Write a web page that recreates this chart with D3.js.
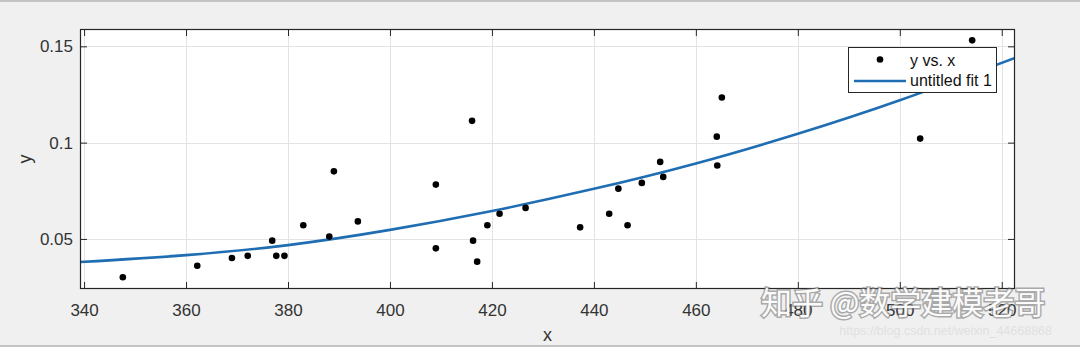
<!DOCTYPE html>
<html>
<head>
<meta charset="utf-8">
<script src="https://cdn.jsdelivr.net/npm/d3@7"></script>
<style>
  html, body { margin: 0; padding: 0; background: #f0f0f0; }
  svg { display: block; font-family: "Liberation Sans", Arial, sans-serif; }
</style>
</head>
<body>
<svg id="chart" width="1080" height="347"></svg>
<script>
// scatter data
var xData = [347.6, 362.2, 369.0, 372.1, 376.9, 377.7, 379.3, 383.0, 388.1, 389.0, 393.7,
             409.0, 409.0, 416.1, 416.3, 417.1, 419.1, 421.5, 426.6, 437.3, 443.0, 444.8,
             446.6, 449.4, 453.0, 453.6, 464.1, 464.2, 465.1, 504.0, 514.2];
var yData = [0.0301, 0.0361, 0.0401, 0.0412, 0.0491, 0.0412, 0.0412, 0.0571, 0.0512, 0.0851, 0.0591,
             0.0782, 0.0451, 0.1113, 0.0491, 0.0382, 0.0571, 0.0631, 0.0661, 0.0560, 0.0631, 0.0761,
             0.0571, 0.0791, 0.0900, 0.0822, 0.1031, 0.0881, 0.1234, 0.1021, 0.1531];

// fitted curve
var fitX = [339.2, 360, 380, 400, 420, 440, 460, 480, 500, 522.6];
var fitY = [0.0380, 0.0416, 0.0468, 0.0547, 0.0645, 0.0760, 0.0892, 0.1046, 0.1220, 0.1440];

var xTicks = [340, 360, 380, 400, 420, 440, 460, 480, 500, 520];
var yTicks = [0.05, 0.1, 0.15];
var legendLabels = ["y vs. x", "untitled fit 1"];

(function () {
  var W = 1080, H = 347;
  var m = { left: 80, right: 1015, top: 29, bottom: 289 };
  var axisColor = "#262626", labelColor = "#333", fitColor = "#1f6db2", gridColor = "#e3e3e3";

  var svg = d3.select("#chart");

  // figure frame lines
  svg.append("rect").attr("x", 0).attr("y", 0).attr("width", W).attr("height", 2).attr("fill", "#c4c4c4");
  svg.append("rect").attr("x", 0).attr("y", H - 2).attr("width", W).attr("height", 2).attr("fill", "#c4c4c4");

  var x = d3.scaleLinear().domain([339.2, 522.6]).range([m.left, m.right]);
  var y = d3.scaleLinear().domain([0.024, 0.159]).range([m.bottom, m.top]);

  svg.append("rect")
    .attr("x", m.left).attr("y", m.top)
    .attr("width", m.right - m.left).attr("height", m.bottom - m.top)
    .attr("fill", "#fff");

  // grid
  svg.append("g").selectAll("line").data(xTicks).enter().append("line")
    .attr("x1", function (d) { return Math.round(x(d)) + 0.5; })
    .attr("x2", function (d) { return Math.round(x(d)) + 0.5; })
    .attr("y1", m.top).attr("y2", m.bottom)
    .attr("stroke", gridColor);
  svg.append("g").selectAll("line").data(yTicks).enter().append("line")
    .attr("y1", function (d) { return Math.round(y(d)) + 0.5; })
    .attr("y2", function (d) { return Math.round(y(d)) + 0.5; })
    .attr("x1", m.left).attr("x2", m.right)
    .attr("stroke", gridColor);

  svg.append("clipPath").attr("id", "plotclip").append("rect")
    .attr("x", m.left).attr("y", m.top).attr("width", m.right - m.left).attr("height", m.bottom - m.top);

  // fit line
  var line = d3.line()
    .x(function (d, i) { return x(fitX[i]); })
    .y(function (d) { return y(d); })
    .curve(d3.curveNatural);
  svg.append("path")
    .datum(fitY)
    .attr("clip-path", "url(#plotclip)")
    .attr("d", line)
    .attr("fill", "none")
    .attr("stroke", fitColor)
    .attr("stroke-width", 2.6);

  // points
  svg.append("g").selectAll("circle").data(yData).enter().append("circle")
    .attr("cx", function (d, i) { return x(xData[i]); })
    .attr("cy", function (d) { return y(d); })
    .attr("r", 3.3)
    .attr("fill", "#000");

  // axes (ticks inward, mirrored on top and right)
  var tickLen = 7;
  var gx = svg.append("g").attr("transform", "translate(0," + m.bottom + ")")
    .call(d3.axisBottom(x).tickValues(xTicks).tickSizeInner(-tickLen).tickSizeOuter(0)
      .tickPadding(15).tickFormat(d3.format("d")));
  var gxTop = svg.append("g").attr("transform", "translate(0," + m.top + ")")
    .call(d3.axisTop(x).tickValues(xTicks).tickSizeInner(-tickLen).tickSizeOuter(0).tickFormat(""));
  var gy = svg.append("g").attr("transform", "translate(" + m.left + ",0)")
    .call(d3.axisLeft(y).tickValues(yTicks).tickSizeInner(-tickLen).tickSizeOuter(0)
      .tickPadding(7).tickFormat(function (d) { return String(+d.toFixed(2)); }));
  var gyRight = svg.append("g").attr("transform", "translate(" + m.right + ",0)")
    .call(d3.axisRight(y).tickValues(yTicks).tickSizeInner(-tickLen).tickSizeOuter(0).tickFormat(""));

  [gx, gxTop, gy, gyRight].forEach(function (g) {
    g.select(".domain").remove();
    g.selectAll("line").attr("stroke", axisColor);
    g.selectAll("text").attr("fill", labelColor).attr("font-size", 17)
      .attr("font-family", "Liberation Sans, Arial, sans-serif");
  });

  svg.append("rect")
    .attr("x", m.left + 0.5).attr("y", m.top + 0.5)
    .attr("width", m.right - m.left - 1).attr("height", m.bottom - m.top - 1)
    .attr("fill", "none").attr("stroke", axisColor).attr("stroke-width", 1.2);

  // axis labels
  svg.append("text").attr("x", (m.left + m.right) / 2).attr("y", 341)
    .attr("text-anchor", "middle").attr("font-size", 18).attr("fill", labelColor).text("x");
  svg.append("text").attr("transform", "translate(31,159) rotate(-90)")
    .attr("text-anchor", "middle").attr("font-size", 18).attr("fill", labelColor).text("y");

  // legend
  var lg = svg.append("g").attr("transform", "translate(848,47)");
  lg.append("rect").attr("x", 0.5).attr("y", 0.5).attr("width", 148).attr("height", 45)
    .attr("fill", "#fff").attr("stroke", axisColor).attr("stroke-width", 1);
  lg.append("circle").attr("cx", 32).attr("cy", 12.5).attr("r", 3.3).attr("fill", "#000");
  lg.append("line").attr("x1", 6).attr("x2", 58).attr("y1", 34).attr("y2", 34)
    .attr("stroke", fitColor).attr("stroke-width", 2.6);
  lg.selectAll("text").data(legendLabels).enter().append("text")
    .attr("x", 62).attr("y", function (d, i) { return 19 + i * 20; })
    .attr("font-size", 16).attr("fill", "#111").text(function (d) { return d; });

  // watermark
  var wm = svg.append("g").attr("font-family", "Noto Sans CJK SC, sans-serif").attr("font-size", 31);
  wm.append("text").attr("x", 761).attr("y", 314)
    .attr("fill", "none").attr("stroke", "#707070").attr("stroke-width", 3).attr("opacity", 0.55)
    .text("知乎 @数学建模老哥");
  wm.append("text").attr("x", 761).attr("y", 314)
    .attr("fill", "#fbfbfb").text("知乎 @数学建模老哥");
  svg.append("text").attr("x", 1052).attr("y", 335).attr("text-anchor", "end")
    .attr("font-size", 12.5).attr("fill", "#e0e0e0")
    .text("https://blog.csdn.net/weixin_44668868");
})();
</script>
</body>
</html>
